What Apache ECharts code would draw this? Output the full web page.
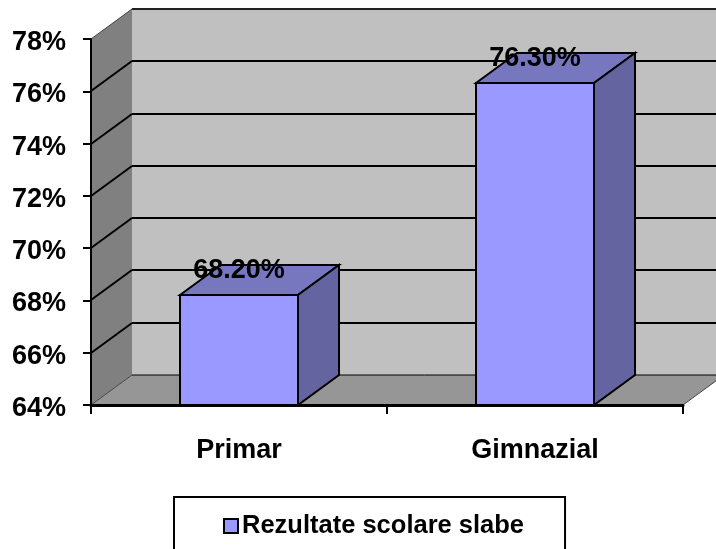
<!DOCTYPE html>
<html>
<head>
<meta charset="utf-8">
<style>
  html, body { margin: 0; padding: 0; background: #fff; }
  #chart { width: 716px; height: 549px; }
</style>
</head>
<body>
<div id="chart"></div>
<script src="https://cdn.jsdelivr.net/npm/echarts@6/dist/echarts.min.js"></script>
<script>
var categories = ['Primar', 'Gimnazial'];
var values = [68.2, 76.3];
var yTicks = [64, 66, 68, 70, 72, 74, 76, 78];
var seriesName = 'Rezultate scolare slabe';

// depth of the fake 3d box, in pixels
var DX = 41;
var DY = 30;
var FONT = '"Liberation Sans", Arial, sans-serif';

function poly(points, fill, stroke, lineWidth) {
  return {
    type: 'polygon',
    shape: { points: points },
    style: { fill: fill, stroke: stroke || null, lineWidth: lineWidth || 0, lineJoin: 'miter' }
  };
}

function seg(x1, y1, x2, y2, width, color) {
  return {
    type: 'line',
    shape: { x1: x1, y1: y1, x2: x2, y2: y2 },
    style: { stroke: color, lineWidth: width }
  };
}

function renderBack(params, api) {
  var rect = params.coordSys;
  var left = rect.x;
  var right = rect.x + rect.width;
  var top = api.coord([0, yTicks[yTicks.length - 1]])[1];
  var bottom = api.coord([0, yTicks[0]])[1];
  var kids = [
    poly([[left + DX, top - DY], [right + DX, top - DY], [right + DX, bottom - DY], [left + DX, bottom - DY]], '#c0c0c0'),
    poly([[left, top], [left + DX, top - DY], [left + DX, bottom - DY], [left, bottom]], '#808080'),
    poly([[left, bottom], [left + DX, bottom - DY], [right + DX, bottom - DY], [right, bottom]], '#969696')
  ];
  yTicks.forEach(function (t, i) {
    var y = Math.round(api.coord([0, t])[1]);
    var edge = i === 0 || i === yTicks.length - 1;
    kids.push(seg(left, y, left + DX, y - DY, edge ? 1 : 2, edge ? '#444' : '#000'));
    kids.push(seg(left + DX, y - DY, right + DX, y - DY, i === 0 ? 1 : 2, i === yTicks.length - 1 ? '#222' : '#000'));
  });
  kids.push(seg(right, bottom, right + DX, bottom - DY, 1, '#444'));
  return { type: 'group', children: kids };
}

function renderBar(params, api) {
  var center = api.coord([api.value(0), api.value(1)]);
  var base = api.coord([api.value(0), yTicks[0]])[1];
  var w = Math.round(api.size([1, 0])[0] * 0.4);
  var x0 = Math.round(center[0] - w / 2);
  var x1 = x0 + w;
  var y = Math.round(center[1]);
  return {
    type: 'group',
    children: [
      poly([[x0, y], [x0 + DX, y - DY], [x1 + DX, y - DY], [x1, y]], '#7777c0', '#000', 2),
      poly([[x1, y], [x1 + DX, y - DY], [x1 + DX, base - DY], [x1, base]], '#6464a0', '#000', 2),
      poly([[x0, y], [x1, y], [x1, base], [x0, base]], '#9999ff', '#000', 2),
      {
        type: 'text',
        style: {
          x: center[0],
          y: y - 24,
          text: api.value(1).toFixed(2) + '%',
          font: 'bold 27px ' + FONT,
          fill: '#000',
          align: 'center',
          verticalAlign: 'middle'
        }
      }
    ]
  };
}

var chart = echarts.init(document.getElementById('chart'));
chart.setOption({
  animation: false,
  backgroundColor: '#fff',
  grid: { left: 91, right: 33, top: 39, bottom: 144, outerBoundsMode: 'none' },
  legend: {
    data: [{
      name: seriesName,
      icon: 'rect',
      itemStyle: { color: '#9999ff', borderColor: '#000', borderWidth: 2 }
    }],
    left: 174,
    top: 497,
    orient: 'horizontal',
    padding: [16, 41, 30, 49],
    borderColor: '#000',
    borderWidth: 2,
    borderRadius: 0,
    itemWidth: 14,
    itemHeight: 14,
    itemGap: 0,
    textStyle: { color: '#000', fontFamily: FONT, fontWeight: 'bold', fontSize: 25.5, padding: [0, 0, 0, -1] },
    selectedMode: false
  },
  xAxis: {
    type: 'category',
    data: categories,
    z: 10,
    axisLine: { lineStyle: { color: '#000', width: 3 } },
    axisTick: { show: true, length: 9, lineStyle: { color: '#000', width: 2 } },
    axisLabel: { color: '#000', fontFamily: FONT, fontWeight: 'bold', fontSize: 27, margin: 32 },
    splitLine: { show: false }
  },
  yAxis: {
    type: 'value',
    min: yTicks[0],
    max: yTicks[yTicks.length - 1],
    interval: 2,
    z: 10,
    axisLine: { show: true, lineStyle: { color: '#000', width: 2 } },
    axisTick: { show: true, length: 8, lineStyle: { color: '#000', width: 2 } },
    axisLabel: {
      margin: 25,
      formatter: function (v) { return '{v|' + v + '%}'; },
      rich: {
        // labels sit a bit below their ticks in the original
        v: { color: '#000', fontFamily: FONT, fontWeight: 'bold', fontSize: 27, padding: [7, 0, 0, 0] }
      }
    },
    splitLine: { show: false }
  },
  series: [
    {
      name: 'back',
      type: 'custom',
      coordinateSystem: 'cartesian2d',
      clip: false,
      silent: true,
      z: 1,
      renderItem: renderBack,
      data: [[0, yTicks[0]]]
    },
    {
      name: seriesName,
      type: 'custom',
      coordinateSystem: 'cartesian2d',
      clip: false,
      z: 2,
      encode: { x: 0, y: 1 },
      itemStyle: { color: '#9999ff' },
      renderItem: renderBar,
      data: values.map(function (v, i) { return [i, v]; })
    }
  ]
});
</script>
</body>
</html>
